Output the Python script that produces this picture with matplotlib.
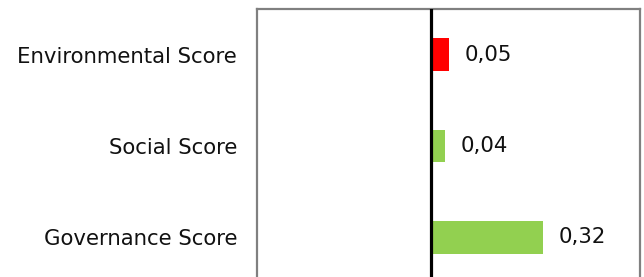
import matplotlib
matplotlib.use("Agg")
import matplotlib.pyplot as plt

categories = ["Governance Score", "Social Score", "Environmental Score"]
values = [0.32, 0.04, 0.05]
colors = ["#92D050", "#92D050", "#FF0000"]
value_labels = ["0,32", "0,04", "0,05"]

fig = plt.figure(figsize=(6.44, 2.77), dpi=100)
ax = fig.add_axes([257/644, 1 - 283/277, (640-257)/644, (283-9)/277])
ypos = list(range(len(categories)))
ax.barh(ypos, values, height=0.36, color=colors, zorder=2)
ax.axvline(0, color="black", linewidth=2.3, zorder=3)
ax.set_xlim(-0.5, 0.6)
ax.set_ylim(-0.5, 2.5)
ax.set_yticks(ypos)
ax.set_yticklabels(categories, fontsize=15.3, color="#111111")
ax.tick_params(axis="y", length=0, pad=14.4)
ax.set_xticks([])
for s in ax.spines.values():
    s.set_color("#808080")
    s.set_linewidth(1.6)
for y, v, lab in zip(ypos, values, value_labels):
    ax.annotate(lab, (v, y), xytext=(16, 0), textcoords="offset pixels",
                va="center", ha="left", fontsize=15.3, color="#111111")
fig.savefig("out.png", dpi=100)
